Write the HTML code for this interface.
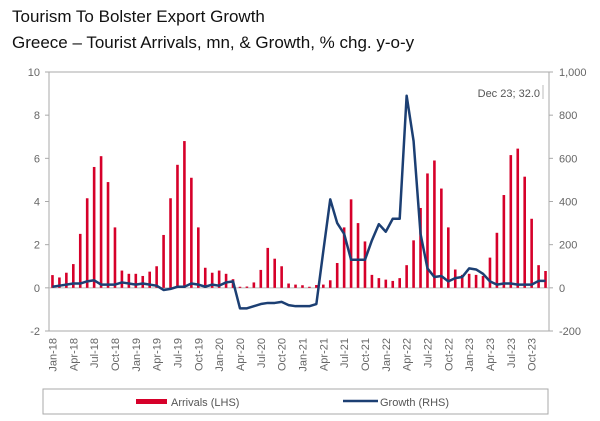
<!DOCTYPE html>
<html><head><meta charset="utf-8"><style>
body{margin:0;background:#fff;width:600px;height:421px;overflow:hidden;font-family:"Liberation Sans",sans-serif}
.t{position:absolute;left:12px;font-size:17px;color:#111;white-space:nowrap}
</style></head><body>
<div class="t" style="top:7px">Tourism To Bolster Export Growth</div>
<div class="t" style="top:33px">Greece – Tourist Arrivals, mn, &amp; Growth, % chg. y-o-y</div>
<svg id="c" width="600" height="421" style="position:absolute;left:0;top:0"></svg>
<script>
const months=["Jan","Feb","Mar","Apr","May","Jun","Jul","Aug","Sep","Oct","Nov","Dec"];
const years=["18","19","20","21","22","23"];
const arrivals=[0.59,0.48,0.7,1.1,2.5,4.15,5.6,6.1,4.9,2.8,0.8,0.65,
0.65,0.55,0.75,1.0,2.45,4.15,5.7,6.8,5.1,2.8,0.93,0.7,
0.8,0.65,0.4,0.05,0.06,0.25,0.83,1.85,1.35,1.0,0.2,0.15,
0.12,0.05,0.13,0.15,0.35,1.15,2.8,4.1,3.0,2.15,0.6,0.45,
0.38,0.32,0.45,1.05,2.2,3.7,5.3,5.9,4.6,2.8,0.85,0.6,
0.65,0.6,0.55,1.4,2.55,4.3,6.15,6.45,5.15,3.2,1.05,0.78];
const growth=[5,10,15,20,20,30,35,15,15,15,25,20,
15,20,15,10,-10,-5,5,5,20,15,5,15,
10,25,30,-95,-95,-85,-75,-70,-70,-65,-80,-85,
-85,-85,-75,170,410,300,250,130,130,130,220,295,
260,320,320,890,680,250,90,50,55,30,45,50,
90,85,65,30,15,20,20,15,15,15,32,32];
const leftTicks=[10,8,6,4,2,0,-2];
const rightTicks=["1,000","800","600","400","200","0","-200"];
const NS="http://www.w3.org/2000/svg",svg=document.getElementById('c');
function mk(t,a,p){const e=document.createElementNS(NS,t);for(const k in a)e.setAttribute(k,a[k]);(p||svg).appendChild(e);return e;}
const X0=49,X1=549,Y10=72,Ym2=331;
const y=v=>Y10+(10-v)*(Ym2-Y10)/12;
const yr=v=>y(v/100);
const step=(X1-X0)/72;
const x=i=>X0+step*(i+0.5);
const ax=mk('g',{});
mk('path',{d:`M${X0},${Y10}H${X1}V${Ym2}H${X0}Z`,fill:'none',stroke:'#aaa','stroke-width':1},ax);
mk('line',{x1:X0,x2:X1,y1:y(0),y2:y(0),stroke:'#bbb','stroke-width':1},ax);
leftTicks.forEach((v,i)=>{const yy=y(v);
mk('line',{x1:X0-4,x2:X0,y1:yy,y2:yy,stroke:'#aaa'},ax);
const t=mk('text',{x:X0-9,y:yy+4,'text-anchor':'end','font-size':11,fill:'#666'},ax);t.textContent=v;

const yv=y(10-2*i);mk('line',{x1:X1,x2:X1+4,y1:yv,y2:yv,stroke:'#aaa'},ax);
const r=mk('text',{x:X1+10,y:yv+4,'font-size':11,fill:'#666'},ax);r.textContent=rightTicks[i];
});
for(let i=0;i<72;i+=3){const xx=x(i);
const t=mk('text',{transform:`translate(${xx+4},${Ym2+7}) rotate(-90)`,'text-anchor':'end','font-size':11,fill:'#666'},ax);
t.textContent=months[i%12]+'-'+years[Math.floor(i/12)];
}
arrivals.forEach((v,i)=>{const b=mk('rect',{x:x(i)-1.3,y:Math.min(y(v),y(0)),width:2.6,height:Math.abs(y(0)-y(v)),fill:'#d6002a'});
});
const ln=mk('polyline',{points:growth.map((v,i)=>x(i)+','+yr(v)).join(' '),fill:'none',stroke:'#1c3f73','stroke-width':2.5,'stroke-linejoin':'round'});

const an=mk('text',{x:540,y:97,'text-anchor':'end','font-size':11,fill:'#555'});an.textContent='Dec 23; 32.0';

mk('line',{x1:543,x2:543,y1:85,y2:99,stroke:'#bbb'});
const lg=mk('g',{});
mk('rect',{x:43,y:389,width:505,height:25,fill:'#fff',stroke:'#aaa'},lg);
mk('rect',{x:136,y:399,width:31,height:5,fill:'#d6002a'},lg);
const l1=mk('text',{x:171,y:406,'font-size':11,fill:'#555'},lg);l1.textContent='Arrivals (LHS)';

mk('line',{x1:343,x2:378,y1:401,y2:401,stroke:'#1c3f73','stroke-width':2.5},lg);
const l2=mk('text',{x:380,y:406,'font-size':11,fill:'#555'},lg);l2.textContent='Growth (RHS)';

</script>
</body></html>
